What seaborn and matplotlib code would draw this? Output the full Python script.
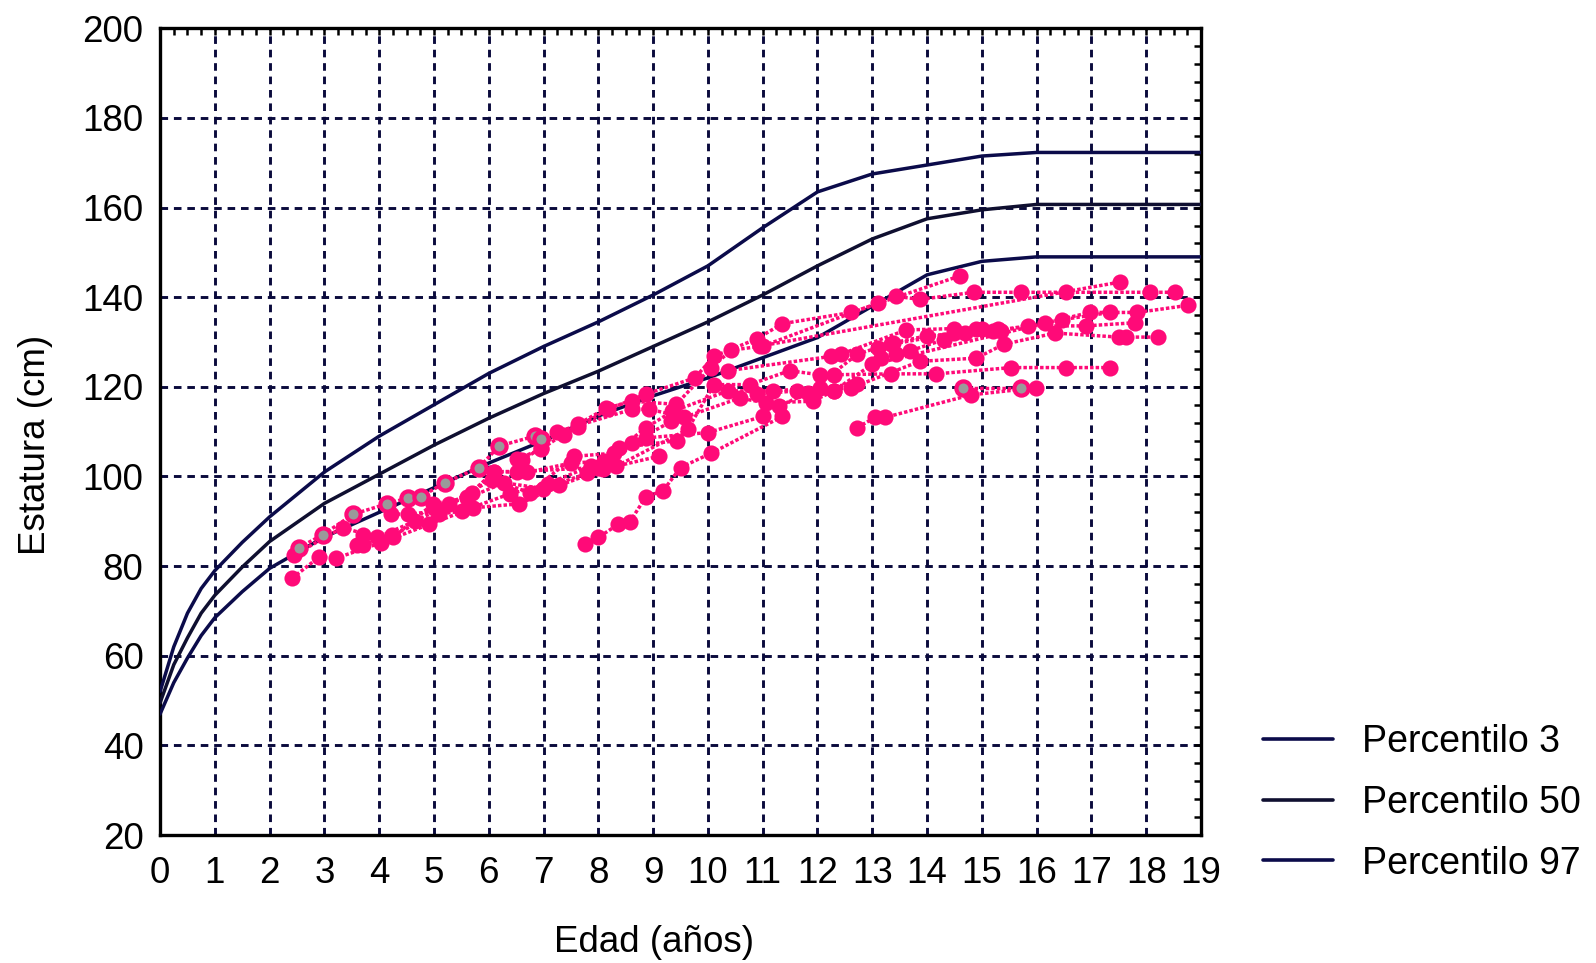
import numpy as np
import pandas as pd
import matplotlib
matplotlib.use("Agg")
import matplotlib.pyplot as plt
from matplotlib.ticker import MultipleLocator
import seaborn as sns

# --- Curvas de referencia (percentiles de estatura, cm) ---
edad_ref = [0, 0.25, 0.5, 0.75, 1, 1.5, 2, 3, 4, 5, 6, 7, 8, 9, 10, 11, 12,
            13, 14, 15, 16, 17, 18, 19]
p3 = [47, 54, 59.5, 64.5, 68.5, 74.3, 79.5, 86.5, 92, 97.5, 103, 108, 113.5,
      118, 122, 126.5, 131, 138, 145, 148, 149, 149, 149, 149]
p50 = [49.5, 58, 64, 69.5, 73.5, 79.8, 85.5, 94, 100.5, 107, 113, 118.5, 123.5,
       129, 134.5, 140.5, 147, 153, 157.5, 159.5, 160.7, 160.7, 160.7, 160.7]
p97 = [52, 62, 69.5, 75, 79, 85.3, 91, 101, 109, 116, 123, 129, 134.5, 140.5,
       147, 155.5, 163.5, 167.5, 169.5, 171.5, 172.3, 172.3, 172.3, 172.3]
etiquetas_ref = ["Percentilo 3", "Percentilo 50", "Percentilo 97"]

# --- Mediciones seriadas por niño (edad en años, estatura en cm) ---
edad_01 = [2.41, 2.90, 3.22, 4.03, 4.91, 5.71, 6.56, 7.29, 8.08, 9.10]
talla_01 = [77.3, 82.0, 81.8, 85.2, 89.3, 93.0, 93.9, 98.0, 101.6, 104.5]
edad_02 = [2.45, 3.33, 3.96, 4.65, 5.28, 6.06, 6.75, 7.56, 8.29, 9.33]
talla_02 = [82.5, 88.6, 86.4, 90.0, 93.9, 99.3, 96.4, 104.5, 105.2, 112.3]
edad_03 = [3.60, 3.70, 4.24, 5.09, 5.52, 6.38, 7.08, 7.86, 8.62]
talla_03 = [84.8, 87.0, 87.0, 91.6, 92.3, 96.1, 98.4, 102.3, 107.5]
edad_04 = [3.70, 4.26, 4.98, 5.61, 6.28, 6.99, 7.80, 8.38, 9.44]
talla_04 = [84.8, 86.4, 93.9, 95.2, 98.6, 97.3, 100.7, 106.4, 108.0]
edad_05 = [4.22, 4.52, 5.10, 5.69, 6.10, 6.52, 7.99, 8.87, 10.00, 11.00]
talla_05 = [91.6, 91.6, 92.3, 96.4, 101.1, 101.1, 102.0, 108.6, 109.8, 113.4]
edad_06 = [7.75, 8.00, 8.36, 8.57, 8.87, 9.18, 9.50, 10.06, 11.36]
talla_06 = [85.0, 86.4, 89.3, 89.8, 95.5, 96.8, 102.0, 105.2, 113.4]
edad_07 = [7.38, 7.62, 8.18, 8.87, 9.76, 10.11, 10.89, 11.36, 12.62, 13.10, 14.61]
talla_07 = [109.3, 111.1, 115.0, 118.4, 122.0, 126.8, 130.7, 134.1, 136.6, 138.6, 144.8]
edad_08 = [6.52, 6.96, 7.62, 8.14, 8.62, 9.42, 10.06, 10.43, 11.00, 13.44,
           13.87, 14.85, 15.72, 16.54, 18.07, 18.53]
talla_08 = [103.9, 106.1, 111.6, 115.2, 116.8, 116.1, 124.3, 128.2, 129.1, 140.2,
            139.5, 141.1, 141.1, 141.1, 141.1, 141.1]
edad_09 = [5.00, 5.60, 6.10, 6.70, 7.50, 8.10, 8.87, 9.35, 10.36, 11.19, 12.04, 12.73]
talla_09 = [93.0, 95.5, 101.1, 100.9, 103.0, 103.4, 110.9, 114.5, 119.1, 119.1, 119.8, 120.7]
edad_10 = [6.60, 6.96, 7.25, 8.62, 8.93, 9.57, 10.58, 11.06, 11.91, 12.30]
talla_10 = [103.6, 106.4, 110.0, 115.0, 115.0, 113.2, 117.5, 116.4, 116.8, 119.1]
edad_11 = [8.33, 9.63, 10.11, 10.76, 11.49, 12.04, 12.30, 13.35, 14.17, 15.54, 16.54, 17.34]
talla_11 = [102.3, 110.5, 120.5, 120.5, 123.6, 122.7, 122.7, 122.9, 122.9, 124.3, 124.3, 124.3]
edad_12 = [10.89, 11.62, 12.62, 13.87, 14.90, 15.40, 16.34, 17.50, 17.64, 18.22]
talla_12 = [118.4, 119.1, 119.8, 125.7, 126.4, 129.5, 132.0, 131.1, 131.1, 131.1]
edad_13 = [10.36, 12.25, 12.43, 13.62, 14.50, 14.90, 15.35, 16.16, 16.47, 17.34]
talla_13 = [123.6, 126.8, 127.3, 132.7, 133.0, 133.0, 132.5, 134.3, 135.0, 136.6]
edad_14 = [11.30, 11.82, 12.73, 13.37, 14.00, 14.70, 15.20, 15.84, 16.90, 17.79]
talla_14 = [115.7, 118.6, 127.3, 129.8, 131.4, 132.0, 132.5, 133.6, 133.6, 134.3]
edad_15 = [10.95, 17.53]
talla_15 = [129.1, 143.4]
edad_16 = [13.00, 16.97, 17.84, 18.77]
talla_16 = [125.0, 136.6, 136.6, 138.2]
edad_17 = [12.73, 13.05, 13.24, 14.80, 15.98]
talla_17 = [110.9, 113.2, 113.2, 118.2, 119.8]
edad_18 = [12.30, 13.16, 13.44, 13.68, 14.30, 15.00]
talla_18 = [119.1, 126.4, 127.3, 128.0, 130.5, 133.0]
edad_19 = [13.10, 13.35, 14.50, 15.30]
talla_19 = [128.6, 129.5, 132.0, 133.0]

# Niños con mediciones de control (marcador relleno gris)
edad_c1 = [2.53, 2.97, 3.53, 4.14, 4.52, 4.76, 5.20, 5.82, 6.19, 6.84, 6.96]
talla_c1 = [84.1, 87.0, 91.6, 93.9, 95.2, 95.5, 98.6, 102.0, 106.8, 109.0, 108.4]
edad_c2 = [14.65, 15.72]
talla_c2 = [119.8, 119.8]

# --- Tablas largas para seaborn ---
ref = pd.DataFrame({
    "edad": edad_ref * 3,
    "talla": p3 + p50 + p97,
    "curva": sum([[e] * len(edad_ref) for e in etiquetas_ref], []),
})

ninos = [(edad_01, talla_01), (edad_02, talla_02), (edad_03, talla_03),
         (edad_04, talla_04), (edad_05, talla_05), (edad_06, talla_06),
         (edad_07, talla_07), (edad_08, talla_08), (edad_09, talla_09),
         (edad_10, talla_10), (edad_11, talla_11), (edad_12, talla_12),
         (edad_13, talla_13), (edad_14, talla_14), (edad_15, talla_15),
         (edad_16, talla_16), (edad_17, talla_17), (edad_18, talla_18),
         (edad_19, talla_19)]
control = [(edad_c1, talla_c1), (edad_c2, talla_c2)]


def tabla(series, prefijo):
    filas = []
    for i, (e, t) in enumerate(series):
        for a, b in zip(e, t):
            filas.append({"nino": f"{prefijo}{i}", "edad": a, "talla": b})
    return pd.DataFrame(filas)


df_n = tabla(ninos, "n")
df_c = tabla(control, "c")

# --- Estilo ---
sns.set_style("white")
plt.rcParams["font.family"] = ["Liberation Sans", "DejaVu Sans"]
plt.rcParams["text.color"] = "black"
plt.rcParams["axes.labelcolor"] = "black"
plt.rcParams["xtick.color"] = "black"
plt.rcParams["ytick.color"] = "black"

ROSA = "#ff0a78"
NAVY = "#0b0b4a"
NAVY_OSC = "#0f0f30"
GRIS = "#9a9a9a"

fig = plt.figure(figsize=(15.96, 9.63), dpi=100)
ax = fig.add_axes([0.1003, 0.1329, 0.6522, 0.8377])

# Cuadrícula punteada
ax.set_axisbelow(True)
ax.grid(True, which="major", color="#0a0a3c", linestyle=(0, (2.6, 2.0)),
        linewidth=2.1)

# Curvas de referencia
sns.lineplot(data=ref, x="edad", y="talla", hue="curva",
             palette={"Percentilo 3": NAVY, "Percentilo 50": NAVY_OSC,
                      "Percentilo 97": NAVY},
             hue_order=etiquetas_ref, linewidth=2.5, sort=False,
             estimator=None, ax=ax, zorder=3)
handles, labels = ax.get_legend_handles_labels()
if ax.get_legend() is not None:
    ax.get_legend().remove()

# Trayectorias individuales
for datos in (df_n, df_c):
    sns.lineplot(data=datos, x="edad", y="talla", units="nino", estimator=None,
                 sort=False, color=ROSA, linewidth=2.5, linestyle=(0, (1, 0.6)),
                 legend=False, ax=ax, zorder=4)

sns.scatterplot(data=df_n, x="edad", y="talla", color=ROSA, s=135,
                linewidth=0, legend=False, ax=ax, zorder=5)
sns.scatterplot(data=df_c, x="edad", y="talla", facecolor=GRIS,
                edgecolor=ROSA, s=105, linewidth=3.0, legend=False, ax=ax,
                zorder=6)

# Ejes
ax.set_xlim(0, 19)
ax.set_ylim(20, 200)
ax.xaxis.set_major_locator(MultipleLocator(1))
ax.xaxis.set_minor_locator(MultipleLocator(0.25))
ax.yaxis.set_major_locator(MultipleLocator(20))
ax.yaxis.set_minor_locator(MultipleLocator(4))
ax.tick_params(which="both", direction="in", top=True, right=True,
               length=5, width=1.8, color="black")
ax.tick_params(axis="x", which="major", labelsize=26.5, pad=15)
ax.tick_params(axis="y", which="major", labelsize=26.5, pad=12)
for s in ax.spines.values():
    s.set_linewidth(2.4)
    s.set_color("black")
    s.set_visible(True)

ax.set_xlabel("Edad (años)", fontsize=26.5)
ax.set_ylabel("Estatura (cm)", fontsize=26.5)
ax.xaxis.set_label_coords(0.4745, -0.111)
ax.yaxis.set_label_coords(-0.103, 0.483)

leg = ax.legend(handles, labels, loc="center left",
                bbox_to_anchor=(0.7915, 0.1665), bbox_transform=fig.transFigure,
                frameon=False, fontsize=27, handlelength=1.85,
                handletextpad=0.78, labelspacing=0.665, borderpad=0,
                borderaxespad=0)
for h in leg.get_lines():
    h.set_linewidth(2.6)

fig.savefig("out.png", dpi=100)
